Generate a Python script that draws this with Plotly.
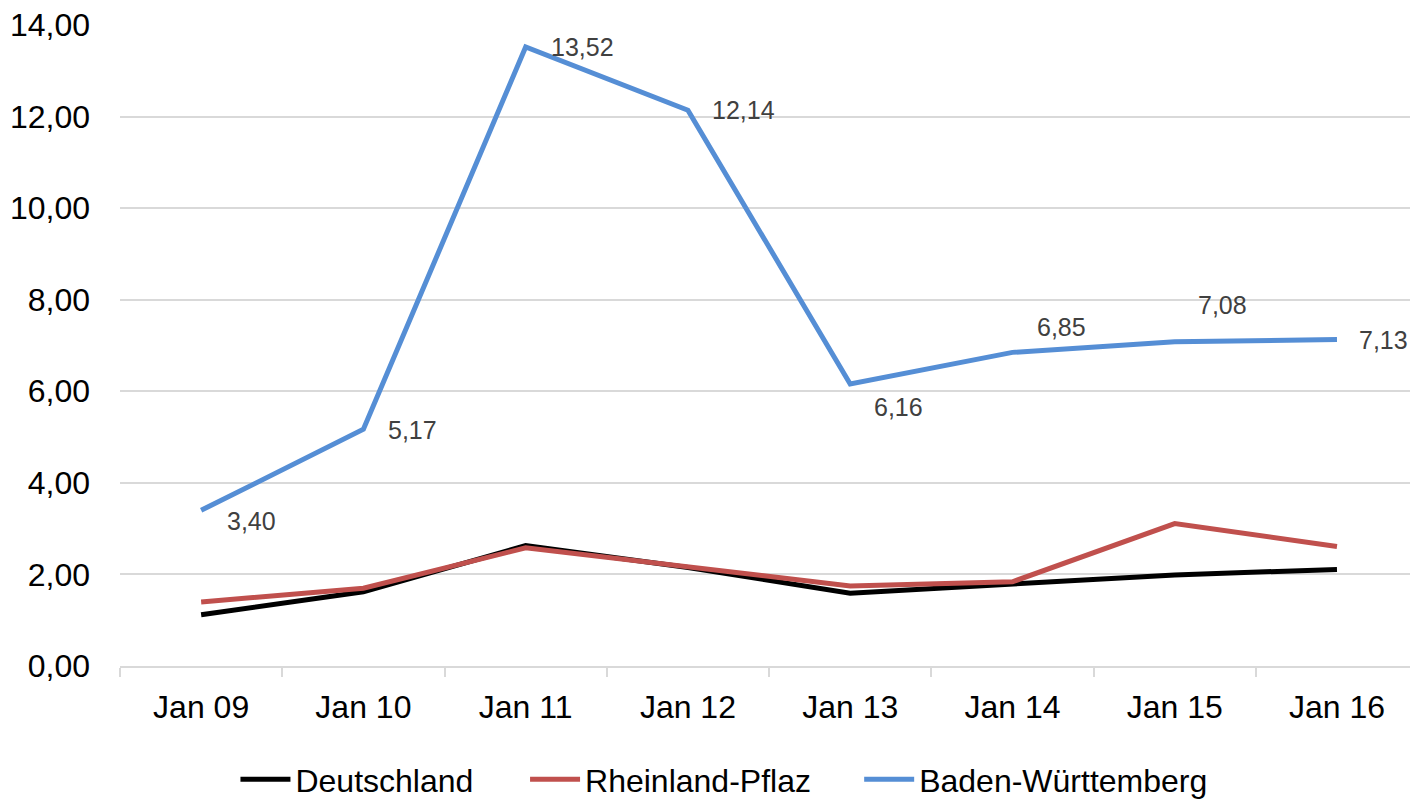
import plotly.graph_objects as go

categories = ["Jan 09", "Jan 10", "Jan 11", "Jan 12", "Jan 13", "Jan 14", "Jan 15", "Jan 16"]
deutschland = [1.12, 1.62, 2.63, 2.15, 1.59, 1.78, 1.99, 2.11]
rheinland_pflaz = [1.40, 1.70, 2.58, 2.17, 1.75, 1.84, 3.11, 2.61]
baden_wuerttemberg = [3.40, 5.17, 13.52, 12.14, 6.16, 6.85, 7.08, 7.13]
y_ticks = [0, 2, 4, 6, 8, 10, 12, 14]

# label offsets (px) for Baden-Württemberg data labels
label_dx = [50, 49, 57, 56, 48, 49, 48, 47]
label_dy = [-11, -1, 0, 0, -23, 25, 37, 0]

FONT = "Liberation Sans, Arial, sans-serif"

fig = go.Figure()
fig.add_trace(go.Scatter(x=categories, y=deutschland, mode="lines", name="Deutschland",
                         line=dict(color="#000000", width=5), legend="legend"))
fig.add_trace(go.Scatter(x=categories, y=rheinland_pflaz, mode="lines", name="Rheinland-Pflaz",
                         line=dict(color="#C0504D", width=5), legend="legend2"))
fig.add_trace(go.Scatter(x=categories, y=baden_wuerttemberg, mode="lines", name="Baden-Württemberg",
                         line=dict(color="#558ED5", width=5), legend="legend3"))

for c, v, dx, dy in zip(categories, baden_wuerttemberg, label_dx, label_dy):
    fig.add_annotation(x=c, y=v, text=f"{v:.2f}".replace(".", ","), showarrow=False,
                       xshift=dx, yshift=dy, font=dict(family=FONT, size=25, color="#404040"))

leg_common = dict(orientation="h", xanchor="left", y=-0.177, yanchor="middle",
                  font=dict(family=FONT, size=32, color="#000000"), itemwidth=50,
                  bgcolor="rgba(0,0,0,0)")

fig.update_layout(
    width=1410, height=799,
    margin=dict(l=120, r=0, t=24.5, b=132.6, autoexpand=False),
    paper_bgcolor="white", plot_bgcolor="white",
    separators=",.",
    font=dict(family=FONT, size=32, color="#000000"),
    showlegend=True,
    legend=dict(x=0.0895, **leg_common),
    legend2=dict(x=0.3140, **leg_common),
    legend3=dict(x=0.5730, **leg_common),
)
fig.update_xaxes(range=[-0.5, 7.45], tickson="boundaries", ticks="outside", ticklen=9,
                 tickcolor="#D9D9D9", tickwidth=2, showline=True, linecolor="#D9D9D9", linewidth=2,
                 showgrid=False, ticklabelstandoff=12, tickfont=dict(size=32), automargin=False)
fig.update_yaxes(range=[0, 14], tickvals=y_ticks, tickformat=".2f", showgrid=True,
                 gridcolor="#D9D9D9", gridwidth=2, zeroline=False, showline=False,
                 ticks="", ticklabelstandoff=29, tickfont=dict(size=32), automargin=False,
                 ticklabeloverflow="allow")

fig.write_html("out.html", config={"displayModeBar": False},
               post_script="document.body.style.margin='0';document.body.style.overflow='hidden';")
